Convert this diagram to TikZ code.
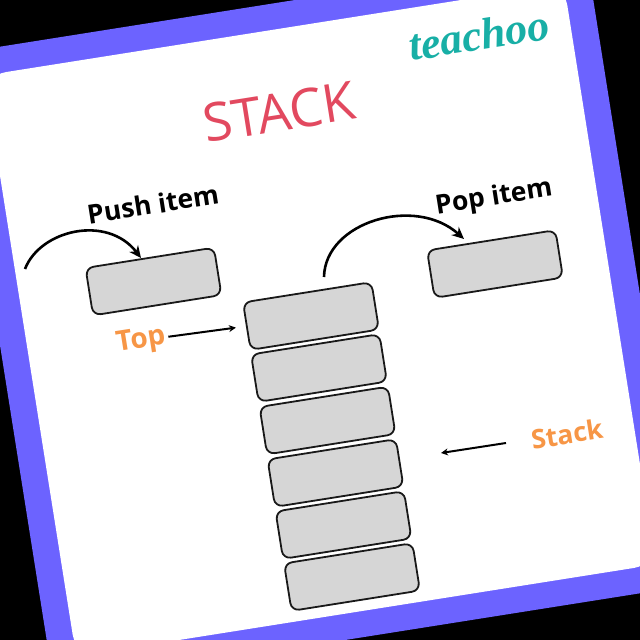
\documentclass[tikz,border=0pt]{standalone}
\usepackage{fontspec}
\setmainfont{Open Sans}
\newfontfamily\logofont{Liberation Serif}
\usetikzlibrary{arrows.meta}
\definecolor{framepurple}{HTML}{6C63FF}
\definecolor{titlered}{HTML}{E2495F}
\definecolor{labelorange}{HTML}{F79646}
\definecolor{logoteal}{HTML}{18AFA6}
\definecolor{boxgrey}{HTML}{D6D6D6}
\tikzset{
  tilted/.style={rotate=9,inner sep=0pt,outer sep=0pt},
  panel/.style={tilted,draw=none},
  cell/.style={tilted,draw=black!90,fill=boxgrey,line width=1.8pt,rounded corners=8pt,minimum width=130pt,minimum height=48pt},
  blacklabel/.style={tilted,font=\fontsize{26.5}{28}\selectfont\bfseries,text=black},
  orangelabel/.style={tilted,font=\fontsize{26.5}{28}\selectfont\bfseries,text=labelorange},
  bigarc/.style={draw=black,line width=2.6pt,-{Stealth[length=12pt,width=11pt]}},
  thinarrow/.style={draw=black,line width=2pt,-{Stealth[length=7pt,width=7pt]}}
}
\begin{document}
\begin{tikzpicture}[x=1pt,y=-1pt]
\useasboundingbox (0,0) rectangle (640,640);
\clip (0,0) rectangle (640,640);
\fill[black] (0,0) rectangle (640,640);
\node[panel,fill=framepurple,minimum width=640pt,minimum height=640pt] (frame) at (320,320) {};
\node[panel,fill=white,rounded corners=22pt,minimum width=587pt,minimum height=588pt] (sheet) at (320,320) {};
\node[tilted,text=titlered,font=\fontsize{53}{55}\selectfont] (title) at (279,112) {STACK};
\node[tilted,text=logoteal,font=\logofont\fontsize{44}{46}\selectfont\bfseries\itshape] (logo) at (479,35) {teachoo};
\node[blacklabel] (pushlabel) at (153,204) {Push item};
\node[blacklabel] (poplabel) at (494,198) {Pop item};
\node[orangelabel,font=\fontsize{28}{30}\selectfont\bfseries] (toplabel) at (141,341) {Top};
\node[orangelabel] (stacklabel) at (567,434) {Stack};
\node[cell] (pushbox) at (153.5,281.5) {};
\node[cell] (popbox) at (495,264) {};
\node[cell] (s1) at (311,316) {};
\node[cell] (s2) at (319,368) {};
\node[cell] (s3) at (327.5,420.5) {};
\node[cell] (s4) at (335.5,473) {};
\node[cell] (s5) at (343.5,525) {};
\node[cell] (s6) at (352,577) {};
\coordinate (pushstart) at (25,269);
\coordinate (pushend) at (141,258);
\coordinate (popstart) at (324,277);
\coordinate (popend) at (464,239);
\coordinate (stackfrom) at (506,443);
\coordinate (stackto) at (441,453);
\draw[bigarc] (pushstart) .. controls (40,230) and (107,214) .. (pushend);
\draw[bigarc] (popstart) .. controls (325,222) and (415,195) .. (popend);
\draw[thinarrow,shorten >=11pt,shorten <=3pt] (toplabel.east) -- (s1.west);
\draw[thinarrow] (stackfrom) -- (stackto);
\end{tikzpicture}
\end{document}
